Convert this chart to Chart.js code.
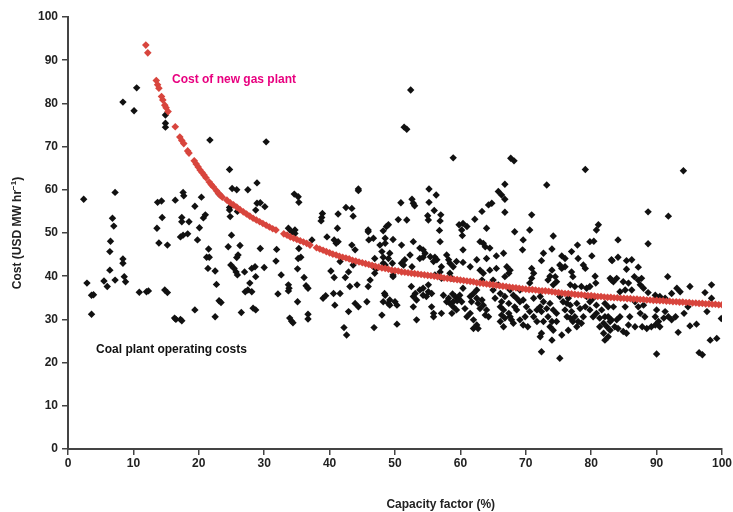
<!DOCTYPE html>
<html>
<head>
<meta charset="utf-8">
<script src="https://cdn.jsdelivr.net/npm/chart.js@4/dist/chart.umd.min.js"></script>
<style>
  html, body { margin: 0; padding: 0; background: #fff; }
  #wrap { width: 733px; height: 512px; }
</style>
</head>
<body>
<div id="wrap"><canvas id="costChart" width="733" height="512"></canvas></div>
<script>
// Cost of coal plant operation vs capacity factor, with gas plant cost curve

const xTicks = [0, 10, 20, 30, 40, 50, 60, 70, 80, 90, 100];
const yTicks = [0, 10, 20, 30, 40, 50, 60, 70, 80, 90, 100];

// [capacity factor %, cost USD/MWh]
const gasPlantCost = [
    [11.9, 93.5], [12.2, 91.7],
    [13.5, 85.3], [13.7, 84.3], [13.9, 83.5],
    [14.3, 81.6], [14.5, 80.8], [14.8, 79.6], [15.0, 79.0], [15.3, 78.1],
    [16.4, 74.6],
    [17.1, 72.2], [17.4, 71.4], [17.7, 70.7],
    [18.3, 69.0], [18.5, 68.5],
    [19.3, 66.7], [19.6, 66.0], [19.9, 65.3], [20.2, 64.6], [20.5, 64.0], [20.8, 63.4], [21.1, 62.8],
    [21.6, 61.8], [21.9, 61.2], [22.2, 60.7],
    [22.7, 59.8], [23.0, 59.2], [23.3, 58.7], [23.6, 58.3],
    [24.3, 57.6], [24.8, 57.0], [25.3, 56.5], [25.8, 56.0], [26.3, 55.4], [26.8, 54.9], [27.3, 54.4],
    [27.8, 53.9], [28.3, 53.4], [28.8, 53.0], [29.3, 52.6], [29.8, 52.2], [30.3, 51.8], [30.8, 51.4],
    [31.3, 51.0], [31.8, 50.7],
    [33.0, 49.8], [33.5, 49.5], [34.0, 49.1], [34.5, 48.8], [35.0, 48.5], [35.5, 48.2], [36.0, 47.9],
    [36.5, 47.6], [37.0, 47.2],
    [38.0, 46.6], [38.5, 46.3], [39.0, 46.0], [39.5, 45.7], [40.0, 45.4], [40.5, 45.1], [41.0, 44.9],
    [41.5, 44.6], [42.0, 44.4], [42.5, 44.2], [43.0, 44.0], [43.5, 43.7], [44.0, 43.5], [44.5, 43.3],
    [45.0, 43.1], [45.5, 42.9], [46.0, 42.7], [46.5, 42.5], [47.0, 42.3], [47.5, 42.1], [48.0, 41.9],
    [48.5, 41.8], [49.0, 41.6], [49.5, 41.4], [50.0, 41.3], [50.5, 41.2], [51.0, 41.0], [51.5, 40.9],
    [52.0, 40.8], [52.5, 40.7], [53.0, 40.6], [53.5, 40.5], [54.0, 40.4], [54.5, 40.3], [55.0, 40.2],
    [55.5, 40.1], [56.0, 40.0], [56.5, 39.9], [57.0, 39.8], [57.5, 39.6], [58.0, 39.5], [58.5, 39.4],
    [59.0, 39.3], [59.5, 39.2], [60.0, 39.1], [60.5, 39.0], [61.0, 38.9], [61.5, 38.8], [62.0, 38.7],
    [62.5, 38.5], [63.0, 38.4], [63.5, 38.3], [64.0, 38.2], [64.5, 38.1], [65.0, 38.0], [65.5, 37.9],
    [66.0, 37.8], [66.5, 37.7], [67.0, 37.6], [67.5, 37.5], [68.0, 37.4], [68.5, 37.3], [69.0, 37.2],
    [69.5, 37.1], [70.0, 37.0], [70.5, 36.9], [71.0, 36.9], [71.5, 36.8], [72.0, 36.7], [72.5, 36.6],
    [73.0, 36.6], [73.5, 36.5], [74.0, 36.4], [74.5, 36.3], [75.0, 36.2], [75.5, 36.1], [76.0, 36.0],
    [76.5, 36.0], [77.0, 35.9], [77.5, 35.8], [78.0, 35.7], [78.5, 35.7], [79.0, 35.6], [79.5, 35.5],
    [80.0, 35.5], [80.5, 35.4], [81.0, 35.3], [81.5, 35.3], [82.0, 35.2], [82.5, 35.1], [83.0, 35.1],
    [83.5, 35.0], [84.0, 35.0], [84.5, 34.9], [85.0, 34.9], [85.5, 34.8], [86.0, 34.8], [86.5, 34.7],
    [87.0, 34.7], [87.5, 34.6], [88.0, 34.6], [88.5, 34.5], [89.0, 34.5], [89.5, 34.4], [90.0, 34.4],
    [90.5, 34.3], [91.0, 34.3], [91.5, 34.2], [92.0, 34.2], [92.5, 34.1], [93.0, 34.1], [93.5, 34.0],
    [94.0, 34.0], [94.5, 33.9], [95.0, 33.9], [95.5, 33.8], [96.0, 33.8], [96.5, 33.7], [97.0, 33.7],
    [97.5, 33.6], [98.0, 33.6], [98.5, 33.5], [99.0, 33.5], [99.5, 33.4], [100.0, 33.4]
];

const coalPlants = [
    // left part, capacity factor below 25%
    [10.5, 83.6], [8.4, 80.3], [10.1, 78.3], [14.9, 77.3], [14.9, 75.4], [14.9, 74.5], [21.7, 71.5],
    [24.7, 64.7], [2.4, 57.8], [7.2, 59.4], [6.8, 53.4], [7.0, 51.6], [13.7, 57.1], [14.3, 57.4],
    [14.4, 53.6], [13.6, 51.1], [16.4, 57.6], [17.6, 59.4], [17.7, 58.6], [17.4, 53.6], [17.4, 52.6],
    [18.5, 52.6], [19.4, 56.2], [20.4, 58.3], [20.7, 53.5], [21.0, 54.2], [20.1, 51.2], [23.1, 59.0],
    [24.7, 55.9], [24.7, 55.3], [24.8, 53.8],
    [6.5, 48.1], [6.4, 45.7], [6.4, 41.4], [2.9, 38.4], [3.6, 35.6], [3.9, 35.7], [3.6, 31.2],
    [5.5, 38.9], [6.0, 37.6], [7.2, 39.1], [8.4, 44.0], [8.4, 43.0], [8.6, 39.9], [8.8, 38.7],
    [10.9, 36.3], [12.0, 36.4], [12.3, 36.6], [13.9, 47.7], [15.2, 47.2], [14.8, 36.8], [15.2, 36.2],
    [16.3, 30.3], [16.5, 30.0], [17.2, 30.0], [17.4, 29.7], [17.2, 49.1], [17.6, 49.5], [18.3, 49.8],
    [19.8, 48.4], [19.4, 32.2], [21.5, 46.3], [21.2, 44.4], [21.6, 44.4], [21.4, 41.8], [22.5, 41.2],
    [22.7, 38.1], [23.1, 34.3], [23.4, 33.9], [22.5, 30.6], [24.5, 46.8], [24.9, 42.6],
    // 25 - 50%
    [30.3, 71.1], [25.1, 60.3], [25.8, 60.0], [27.5, 60.0], [28.9, 61.6], [25.9, 55.0], [28.9, 56.9],
    [29.4, 57.0], [28.7, 55.3], [30.1, 56.1], [34.6, 59.0], [35.2, 58.4], [35.3, 57.1], [38.9, 54.5],
    [38.8, 53.6], [38.7, 52.8], [41.3, 54.4], [42.5, 55.9], [43.4, 55.7], [43.6, 53.9], [44.4, 60.2],
    [44.4, 59.8], [41.2, 51.1], [45.9, 50.7], [48.7, 51.5], [49.0, 51.9], [33.7, 51.1], [34.7, 50.7],
    [25.0, 49.5], [26.3, 47.1], [26.0, 44.9], [25.8, 44.3], [25.4, 41.8], [25.7, 41.0], [25.9, 40.3],
    [27.0, 41.0], [28.1, 41.8], [28.6, 42.2], [28.7, 39.9], [27.8, 38.4], [27.1, 36.4], [27.5, 36.8],
    [28.1, 36.4], [29.4, 46.4], [30.0, 42.0], [26.5, 31.6], [28.3, 32.6], [28.7, 32.2], [31.9, 46.2],
    [31.8, 43.5], [32.6, 40.3], [32.1, 35.9], [33.7, 38.0], [33.8, 37.2], [33.7, 36.6], [33.9, 30.3],
    [34.2, 29.6], [34.4, 29.2], [35.1, 34.1], [35.1, 41.7], [35.2, 44.1], [35.6, 44.4], [35.3, 46.4],
    [36.1, 39.7], [36.4, 37.8], [36.7, 37.2], [36.7, 31.2], [36.7, 30.1], [37.3, 48.4], [34.2, 50.3],
    [34.7, 49.9], [39.0, 34.9], [39.4, 35.5], [39.6, 49.1], [40.7, 48.4], [41.0, 47.6], [41.3, 48.0],
    [40.2, 41.2], [40.7, 39.7], [40.8, 33.3], [40.6, 36.0], [41.6, 36.0], [41.6, 43.4], [42.4, 39.7],
    [42.9, 41.0], [43.1, 37.6], [44.2, 38.0], [42.9, 31.8], [42.2, 28.1], [42.6, 26.4], [43.9, 33.7],
    [44.4, 32.9], [43.4, 47.2], [43.9, 46.1], [43.6, 42.6], [45.7, 34.1], [45.9, 50.3], [46.0, 48.4],
    [46.7, 48.8], [46.2, 39.1], [45.9, 37.6], [47.7, 47.2], [48.0, 45.7], [48.5, 48.8], [49.0, 44.1],
    [48.5, 42.6], [48.0, 31.0], [46.8, 28.1], [48.4, 36.0], [49.0, 33.7], [49.2, 34.5], [49.7, 40.3],
    // 46 - 65%
    [55.2, 60.2], [56.3, 58.8], [50.9, 57.0], [52.6, 57.8], [52.8, 56.9], [53.0, 56.3], [55.2, 57.1],
    [56.0, 55.2], [55.0, 54.0], [55.1, 53.0], [57.0, 54.2], [56.9, 52.8], [50.5, 53.1], [51.8, 53.0],
    [48.2, 50.5], [56.8, 50.6], [56.9, 48.0], [48.5, 47.6], [49.7, 48.5], [51.0, 47.2], [52.8, 48.0],
    [46.9, 44.1], [48.2, 44.4], [49.2, 45.3], [49.6, 43.0], [48.2, 43.0], [51.0, 43.0], [51.3, 42.6],
    [53.8, 46.5], [54.3, 46.1], [54.6, 45.3], [54.3, 44.4], [53.8, 44.1], [55.4, 44.5], [56.1, 44.4],
    [56.4, 43.8], [55.9, 43.4], [57.9, 44.9], [58.2, 43.8], [58.4, 43.0], [58.9, 42.2], [59.4, 43.4],
    [60.4, 43.2], [46.7, 42.2], [47.2, 41.8], [46.9, 40.7], [49.7, 39.9], [52.6, 42.2], [56.1, 40.3],
    [56.9, 41.0], [57.1, 39.5], [58.4, 40.7], [58.7, 39.5], [59.8, 51.9], [60.4, 52.2], [61.0, 51.5],
    [60.2, 50.7], [62.2, 53.2], [63.3, 55.0], [64.3, 56.5], [64.8, 56.9], [64.0, 51.1], [63.0, 48.0],
    [63.5, 47.6], [63.8, 46.8], [64.5, 46.5], [62.5, 43.8], [64.0, 44.1], [60.4, 46.1], [61.5, 42.2],
    [63.0, 41.4], [63.5, 40.7], [64.5, 41.4], [63.3, 39.1],
    [51.5, 43.8], [52.3, 44.9], [57.1, 42.2],
    [52.5, 37.6], [53.1, 36.0], [53.8, 36.8], [54.3, 37.2], [55.1, 36.4], [54.8, 35.3], [55.6, 36.0],
    [53.3, 34.5], [52.8, 35.3], [48.5, 35.6], [48.2, 34.1], [49.2, 33.3], [50.0, 34.1], [50.3, 33.3],
    [50.3, 28.9], [53.3, 29.9], [52.8, 32.9], [55.6, 32.9], [55.9, 31.4], [55.9, 30.6], [57.1, 31.4],
    [57.4, 35.6], [58.2, 34.9], [58.4, 33.7], [58.9, 34.1], [59.2, 35.3], [59.7, 34.9], [59.9, 35.6],
    [58.9, 32.9], [59.4, 32.2], [58.7, 31.4], [60.4, 37.2], [61.5, 35.3], [61.7, 34.1], [62.0, 36.0],
    [62.5, 34.9], [62.7, 33.7], [63.0, 32.5], [63.5, 33.3], [63.8, 31.0], [61.5, 31.4], [62.0, 29.9],
    [62.5, 28.7], [62.0, 27.9], [62.7, 27.9], [61.0, 30.6], [60.7, 32.5], [60.3, 49.4], [74.0, 46.3],
    [58.8, 35.9], [59.5, 34.3], [60.2, 34.1], [57.9, 34.1], [62.5, 36.8], [63.3, 34.5], [64.0, 32.2],
    [64.3, 30.6], [54.3, 35.6], [55.1, 38.0],
    [52.4, 83.1], [51.4, 74.5], [51.8, 74.0], [58.9, 67.4], [67.7, 67.3], [68.2, 66.7],
    // 65 - 84%
    [66.8, 61.3], [73.2, 61.1], [65.8, 59.6], [66.3, 58.8], [66.8, 57.8], [66.8, 54.8], [70.9, 54.2],
    [68.3, 50.3], [70.6, 50.7], [69.6, 48.4], [74.2, 49.3], [69.5, 46.1], [81.1, 51.9], [80.8, 50.7],
    [79.8, 48.0], [80.4, 48.1], [77.9, 47.2], [77.0, 45.7], [80.1, 44.7], [78.0, 44.1], [75.5, 44.7],
    [76.0, 44.1], [72.7, 45.3], [72.4, 43.6], [75.2, 42.6], [75.5, 41.8], [76.0, 42.2], [78.8, 42.6],
    [79.1, 41.8], [83.1, 43.8], [66.6, 45.3], [65.5, 44.7], [65.5, 41.8], [67.1, 42.2], [67.6, 41.4],
    [67.4, 40.7], [66.8, 39.9], [70.9, 41.8], [71.2, 40.7], [70.9, 39.5], [70.6, 38.4], [74.0, 41.4],
    [73.7, 40.0], [74.5, 39.9], [73.4, 39.1], [74.7, 38.7], [74.2, 38.0], [77.0, 41.0], [77.2, 39.9],
    [76.8, 38.0], [77.5, 37.6], [78.5, 37.6], [79.3, 37.2], [79.8, 37.6], [80.6, 40.0], [80.7, 38.4],
    [82.9, 39.5], [83.4, 38.7], [65.0, 39.1], [65.8, 38.0], [65.0, 36.8], [66.1, 36.0], [66.8, 35.3],
    [65.3, 34.9], [66.3, 34.1], [67.4, 33.7], [68.1, 35.6], [68.6, 34.9], [69.1, 34.1], [68.3, 32.9],
    [69.6, 34.5], [66.6, 32.2], [67.4, 31.4], [66.8, 30.3], [66.1, 29.5], [67.8, 29.9], [66.6, 28.3],
    [68.1, 29.1], [70.1, 32.9], [70.6, 31.8], [69.9, 30.6], [71.2, 30.6], [69.6, 28.7], [70.3, 28.3],
    [72.2, 35.3], [72.7, 34.1], [72.2, 32.9], [73.2, 32.5], [72.4, 31.8], [73.7, 33.7], [74.2, 32.2],
    [73.4, 30.6], [72.7, 29.5], [74.0, 29.5], [73.7, 28.3], [74.2, 27.5], [72.4, 26.8], [72.2, 26.0],
    [74.0, 25.2], [75.2, 35.3], [75.7, 34.1], [76.5, 34.9], [76.8, 33.3], [76.0, 32.2], [77.0, 31.8],
    [77.8, 33.7], [78.3, 32.5], [77.5, 30.6], [76.8, 30.3], [78.0, 29.5], [78.5, 29.1], [77.8, 28.3],
    [75.5, 26.4], [76.5, 27.5], [79.3, 35.3], [79.8, 34.1], [80.3, 34.9], [80.8, 33.3], [79.8, 32.2],
    [80.8, 31.4], [81.6, 32.2], [81.3, 30.3], [82.1, 30.6], [81.9, 29.1], [82.4, 28.3], [82.9, 27.5],
    [83.1, 29.9], [82.6, 32.9], [82.1, 25.2], [72.4, 22.5], [75.2, 21.0], [79.1, 64.7],
    [66.1, 32.9], [67.6, 30.6], [66.3, 31.0], [68.6, 32.2], [69.1, 29.9], [71.7, 32.2], [71.7, 29.5],
    [74.7, 29.5], [74.7, 31.4], [76.3, 30.6], [77.2, 29.5], [78.8, 30.6], [80.3, 30.6], [81.3, 28.3],
    [81.9, 26.8], [76.3, 33.7], [79.1, 32.9], [71.2, 34.9], [67.6, 36.8], [69.1, 36.8],
    // 82 - 100%
    [94.1, 64.4], [88.7, 54.9], [91.8, 53.9], [84.1, 48.4], [88.7, 47.5], [83.2, 43.6], [84.1, 44.4],
    [85.4, 43.6], [86.2, 43.8], [85.4, 41.6], [87.2, 42.1], [86.6, 39.9], [87.2, 39.1], [87.7, 39.5],
    [87.5, 38.0], [88.0, 37.2], [83.1, 39.1], [83.9, 39.5], [84.9, 38.7], [85.7, 38.4], [85.2, 36.8],
    [84.4, 36.4], [86.2, 36.8], [91.7, 39.9], [88.7, 36.2], [93.1, 37.2], [93.6, 36.4], [92.3, 36.0],
    [95.1, 37.6], [98.4, 38.0], [97.4, 36.2], [89.8, 35.6], [90.5, 35.3], [91.3, 34.9], [98.4, 34.9],
    [82.1, 33.7], [82.9, 29.5], [83.6, 28.3], [82.6, 26.0], [84.4, 30.6], [84.1, 27.9], [84.9, 27.2],
    [85.4, 26.8], [86.7, 34.1], [87.2, 32.9], [88.0, 33.3], [87.5, 31.4], [88.2, 30.6], [86.7, 28.3],
    [87.8, 28.3], [88.5, 27.9], [89.2, 28.3], [90.0, 32.2], [89.8, 30.6], [90.3, 29.5], [91.1, 30.3],
    [89.8, 28.7], [90.5, 28.3], [91.3, 31.8], [91.8, 30.6], [92.3, 29.9], [92.9, 30.6], [94.2, 31.4],
    [94.8, 32.9], [93.3, 27.0], [95.1, 28.5], [96.1, 28.9], [97.7, 31.8], [99.9, 30.2], [98.2, 25.2],
    [99.2, 25.6], [90.0, 22.0], [96.5, 22.3], [97.0, 21.8],
    [82.6, 30.6], [83.4, 32.9], [83.9, 29.9], [85.2, 32.9], [85.9, 30.6], [85.7, 28.7]
];

const FONT = '"Liberation Sans", Arial, sans-serif';

function toPoints(list) {
    return list.map(p => ({ x: p[0], y: p[1] }));
}

// draws the in-plot labels and axis titles
const labelPlugin = {
    id: 'labels',
    afterDraw(chart) {
        const c = chart.ctx;
        const xs = chart.scales.x;
        const ys = chart.scales.y;
        c.save();
        c.textBaseline = 'middle';
        c.textAlign = 'left';

        c.font = 'bold 12px ' + FONT;
        c.fillStyle = '#e8007f';
        c.fillText('Cost of new gas plant', xs.getPixelForValue(15.9), ys.getPixelForValue(85.6));

        c.fillStyle = '#111';
        c.fillText('Coal plant operating costs', xs.getPixelForValue(4.3), ys.getPixelForValue(23.1));

        // x title
        c.textAlign = 'center';
        c.fillStyle = '#222';
        c.fillText('Capacity factor (%)', xs.getPixelForValue(57), 505);

        // y title with superscript
        c.translate(18, (chart.chartArea.top + chart.chartArea.bottom) / 2);
        c.rotate(-Math.PI / 2);
        const main = 'Cost (USD MW hr';
        c.font = 'bold 12px ' + FONT;
        const wMain = c.measureText(main).width;
        c.font = 'bold 8px ' + FONT;
        const wSup = c.measureText('\u22121').width;
        c.font = 'bold 12px ' + FONT;
        const wEnd = c.measureText(')').width;
        let x0 = -(wMain + wSup + wEnd) / 2;
        c.textAlign = 'left';
        c.fillText(main, x0, 0);
        c.font = 'bold 8px ' + FONT;
        c.fillText('\u22121', x0 + wMain, -4);
        c.font = 'bold 12px ' + FONT;
        c.fillText(')', x0 + wMain + wSup, 0);
        c.restore();
    }
};

const ctx = document.getElementById('costChart').getContext('2d');

new Chart(ctx, {
    type: 'scatter',
    data: {
        datasets: [
            {
                label: 'Cost of new gas plant',
                data: toPoints(gasPlantCost),
                pointStyle: 'rectRot',
                pointRadius: 3.8,
                backgroundColor: '#d8453d',
                borderColor: '#d8453d',
                borderWidth: 0
            },
            {
                label: 'Coal plant operating costs',
                data: toPoints(coalPlants),
                pointStyle: 'rectRot',
                pointRadius: 3.7,
                backgroundColor: '#111',
                borderColor: '#111',
                borderWidth: 0
            }
        ]
    },
    options: {
        responsive: false,
        animation: false,
        layout: { padding: { top: 17, right: 11, left: 0, bottom: 0 } },
        plugins: {
            legend: { display: false },
            tooltip: { enabled: false }
        },
        scales: {
            x: {
                type: 'linear',
                min: 0,
                max: 100,
                afterBuildTicks: s => { s.ticks = xTicks.map(v => ({ value: v })); },
                afterFit: s => { s.height = 63; },
                ticks: {
                    color: '#222',
                    padding: 1,
                    maxRotation: 0,
                    font: { family: FONT, size: 12, weight: 'bold' }
                },
                grid: { drawOnChartArea: false, tickLength: 6, color: '#444', lineWidth: 1.5 },
                border: { color: '#444', width: 2 }
            },
            y: {
                type: 'linear',
                min: 0,
                max: 100,
                afterBuildTicks: s => { s.ticks = yTicks.map(v => ({ value: v })); },
                afterFit: s => { s.width = 68; },
                ticks: {
                    color: '#222',
                    padding: 4,
                    font: { family: FONT, size: 12, weight: 'bold' }
                },
                grid: { drawOnChartArea: false, tickLength: 6, color: '#444', lineWidth: 1.5 },
                border: { color: '#444', width: 2 }
            }
        }
    },
    plugins: [labelPlugin]
});
</script>
</body>
</html>
